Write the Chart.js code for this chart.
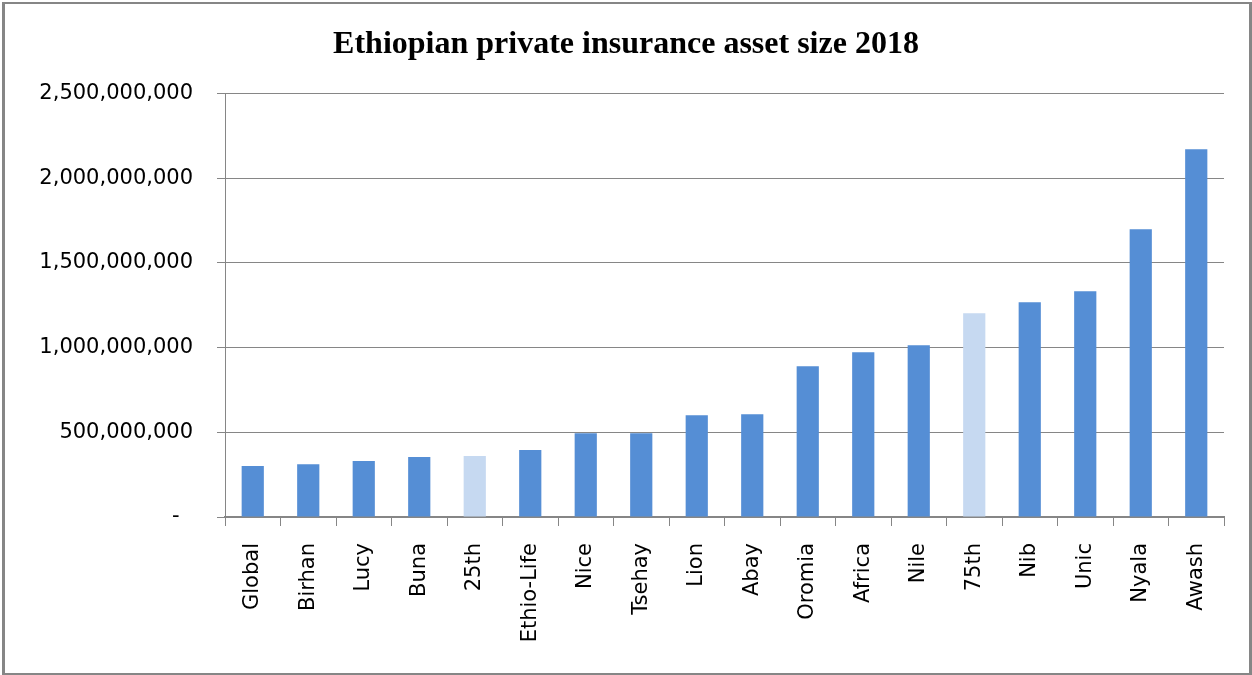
<!DOCTYPE html>
<html>
<head>
<meta charset="utf-8">
<script src="https://cdn.jsdelivr.net/npm/chart.js@4"></script>
<style>
html,body{margin:0;padding:0;background:#fff;}
#frame{position:absolute;left:2px;top:2px;width:1250px;height:673px;box-sizing:border-box;border-left:3px solid #868686;border-top:2px solid #868686;border-right:3px solid #868686;border-bottom:2px solid #868686;}
#wrap{position:absolute;left:0;top:0;width:1252px;height:675px;}
</style>
</head>
<body>
<div id="frame"></div>
<div id="wrap"><canvas id="c" width="1252" height="675"></canvas></div>
<script>
const categories = ["Global","Birhan","Lucy","Buna","25th","Ethio-Life","Nice","Tsehay","Lion","Abay","Oromia","Africa","Nile","75th","Nib","Unic","Nyala","Awash"];
const assetSize = [301000000,312000000,330000000,354000000,360000000,395000000,495000000,495000000,601000000,607000000,890000000,973000000,1014000000,1203000000,1268000000,1333000000,1698000000,2170000000];
const highlighted = ["25th","75th"];
const yTicks = [0,500000000,1000000000,1500000000,2000000000,2500000000];

const blue = '#558ED5';
const lightBlue = '#C6D9F1';
const grey = '#868686';

new Chart(document.getElementById('c'), {
  type: 'bar',
  data: {
    labels: categories,
    datasets: [{
      data: assetSize,
      backgroundColor: categories.map(c => highlighted.includes(c) ? lightBlue : blue),
      barPercentage: 0.4,
      categoryPercentage: 1.0,
      borderWidth: 0
    }]
  },
  options: {
    responsive: false,
    animation: false,
    devicePixelRatio: 1,
    layout: { padding: { left: 0, right: 0, top: 0, bottom: 0 } },
    plugins: {
      legend: { display: false },
      tooltip: { enabled: false },
      title: {
        display: true,
        text: 'Ethiopian private insurance asset size 2018',
        color: '#000',
        font: { family: '"Liberation Serif", "Times New Roman", serif', size: 32, weight: 'bold' },
        padding: { top: 26, bottom: 29 }
      }
    },
    scales: {
      x: {
        offset: true,
        grid: { display: true, drawOnChartArea: false, color: grey, tickLength: 9, lineWidth: 1 },
        border: { color: grey, width: 2 },
        ticks: {
          minRotation: 90, maxRotation: 90, padding: 17,
          color: '#000',
          font: { family: '"DejaVu Sans", Verdana, sans-serif', size: 21 }
        },
        afterFit: s => { s.height = 675 - 517; }
      },
      y: {
        min: 0, max: 2500000000,
        afterBuildTicks: s => { s.ticks = yTicks.map(v => ({ value: v })); },
        grid: { color: grey, lineWidth: 1, tickLength: 8 },
        border: { color: grey, width: 1 },
        ticks: {
          padding: 24,
          color: '#000',
          font: { family: '"DejaVu Sans", Verdana, sans-serif', size: 21 },
          callback: v => v === 0 ? '-  ' : Number(v).toLocaleString('en-US')
        },
        afterFit: s => { s.width = 225; }
      },
      spacer: {
        type: 'linear',
        position: 'right',
        display: true,
        grid: { display: false, drawTicks: false },
        border: { display: false },
        ticks: { display: false },
        afterFit: s => { s.width = 28; }
      }
    }
  }
});
</script>
</body>
</html>
